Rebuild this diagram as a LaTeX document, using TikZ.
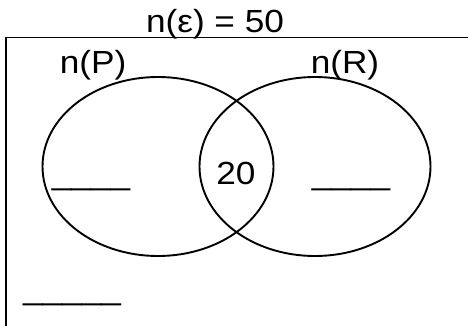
\documentclass[tikz,border=0pt]{standalone}
\usepackage{fontspec}
\setmainfont{Liberation Sans}[FakeStretch=1.1]
\usetikzlibrary{shapes.geometric}
\tikzset{
  setring/.style = {ellipse, draw, line width=1.9pt, minimum width=231pt, minimum height=179pt, inner sep=0pt},
  lbl/.style     = {anchor=base, inner sep=0pt, font=\fontsize{32}{38}\selectfont},
}
\begin{document}
\begin{tikzpicture}[x=1pt, y=-1pt]
    \useasboundingbox (0,0) rectangle (468,326);

    % universal set (runs off the page at right and bottom)
    \draw[line width=1.9pt] (6,37.5) rectangle (490,345);
    \node[lbl] (univ) at (215,33) {n(ε) = 50};

    % the two sets
    \node[setring] (setP) at (158,166.5) {};
    \node[setring] (setR) at (315,166.5) {};
    \node[lbl] (nameP) at (93,73.3)  {n(P)};
    \node[lbl] (nameR) at (345,73.3) {n(R)};

    % regions
    \node[lbl] (both)  at (236,184) {20};
    \node[lbl] (onlyP) at (91,184)  {\_\_\_\_};
    \node[lbl] (onlyR) at (351,184) {\_\_\_\_};
    \node[lbl] (none)  at (72,299)  {\_\_\_\_\_};
\end{tikzpicture}
\end{document}
